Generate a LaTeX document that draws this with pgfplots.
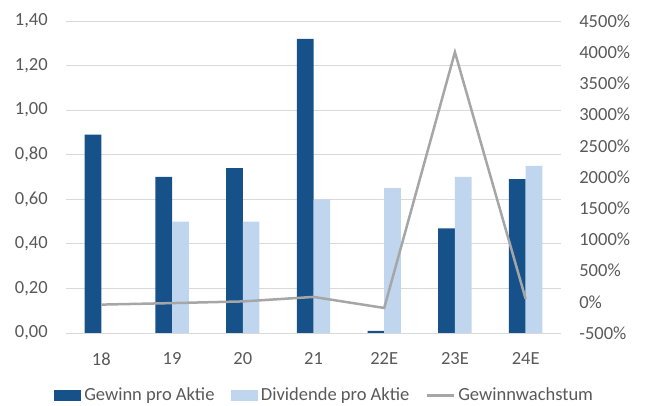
\documentclass[border=0pt]{standalone}
\usepackage{fontspec}
\setmainfont{Carlito}
\usepackage{pgfplots}
\pgfplotsset{compat=1.18}

\definecolor{gewinn}{RGB}{22,81,138}
\definecolor{divi}{RGB}{192,213,238}
\definecolor{wachs}{RGB}{166,166,166}
\definecolor{gridc}{RGB}{217,217,217}
\definecolor{txt}{RGB}{89,89,89}

\newcommand\chfont{\fontsize{18.5}{22}\selectfont}

\begin{document}
\chfont
\begin{tikzpicture}
\pgfplotsset{
  every axis/.append style={
    scale only axis, width=495pt, height=312pt,
    xmin=-0.5, xmax=6.5,
    axis line style={draw=none},
    major tick length=0pt,
    tick label style={font=\chfont, text=txt},
    /pgf/number format/assume math mode=true,
    /pgf/number format/1000 sep={},
  }
}
\begin{axis}[
  name=main,
  ybar=0pt, bar width=16.7pt,
  ymin=0, ymax=1.4, ytick={0,0.2,0.4,0.6,0.8,1.0,1.2,1.4},
  ymajorgrids, grid style={gridc, line width=0.9pt},
  xtick=data, xticklabels={18,19,20,21,22E,23E,24E},
  x tick label style={yshift=-13pt},
  y tick label style={xshift=-12pt, /pgf/number format/.cd, fixed, fixed zerofill, precision=2, use comma},
  legend style={at={(axis description cs:0.522,-0.2)}, anchor=center,
    draw=none, fill=none, legend columns=3, font=\chfont, text=txt,
    nodes={inner sep=1.5pt},
    /tikz/every odd column/.style={column sep=1.5pt},
    /tikz/every even column/.style={column sep=15pt}},
]
\addplot[fill=gewinn, draw=none,
  legend image code/.code={\fill[gewinn] (0pt,-5.5pt) rectangle (27pt,5.5pt);}]
  coordinates {(0,0.89) (1,0.70) (2,0.74) (3,1.32) (4,0.01) (5,0.47) (6,0.69)};
\addlegendentry{Gewinn pro Aktie}
\addplot[fill=divi, draw=none,
  legend image code/.code={\fill[divi] (0pt,-5.5pt) rectangle (27pt,5.5pt);}]
  coordinates {(1,0.50) (2,0.50) (3,0.60) (4,0.65) (5,0.70) (6,0.75)};
\addlegendentry{Dividende pro Aktie}
\addlegendimage{wachs, line width=2.5pt,
  legend image code/.code={\draw (0pt,0pt) -- (27pt,0pt);}}
\addlegendentry{Gewinnwachstum}
\end{axis}
\begin{axis}[
  axis y line*=right, hide x axis,
  ymin=-500, ymax=4500,
  ytick={-500,0,500,1000,1500,2000,2500,3000,3500,4000,4500},
  yticklabel={\pgfmathprintnumber{\tick}\%},
  y tick label style={xshift=12pt},
]
\addplot[wachs, line width=2.5pt, mark=none]
  coordinates {(0,-45) (1,-21) (2,6) (3,78) (4,-99) (5,4000) (6,47)};
\end{axis}
\pgfresetboundingbox
\path (main.south west) ++(-66pt,-73pt) rectangle ([xshift=87pt,yshift=21pt]main.north east);
\end{tikzpicture}
\end{document}
